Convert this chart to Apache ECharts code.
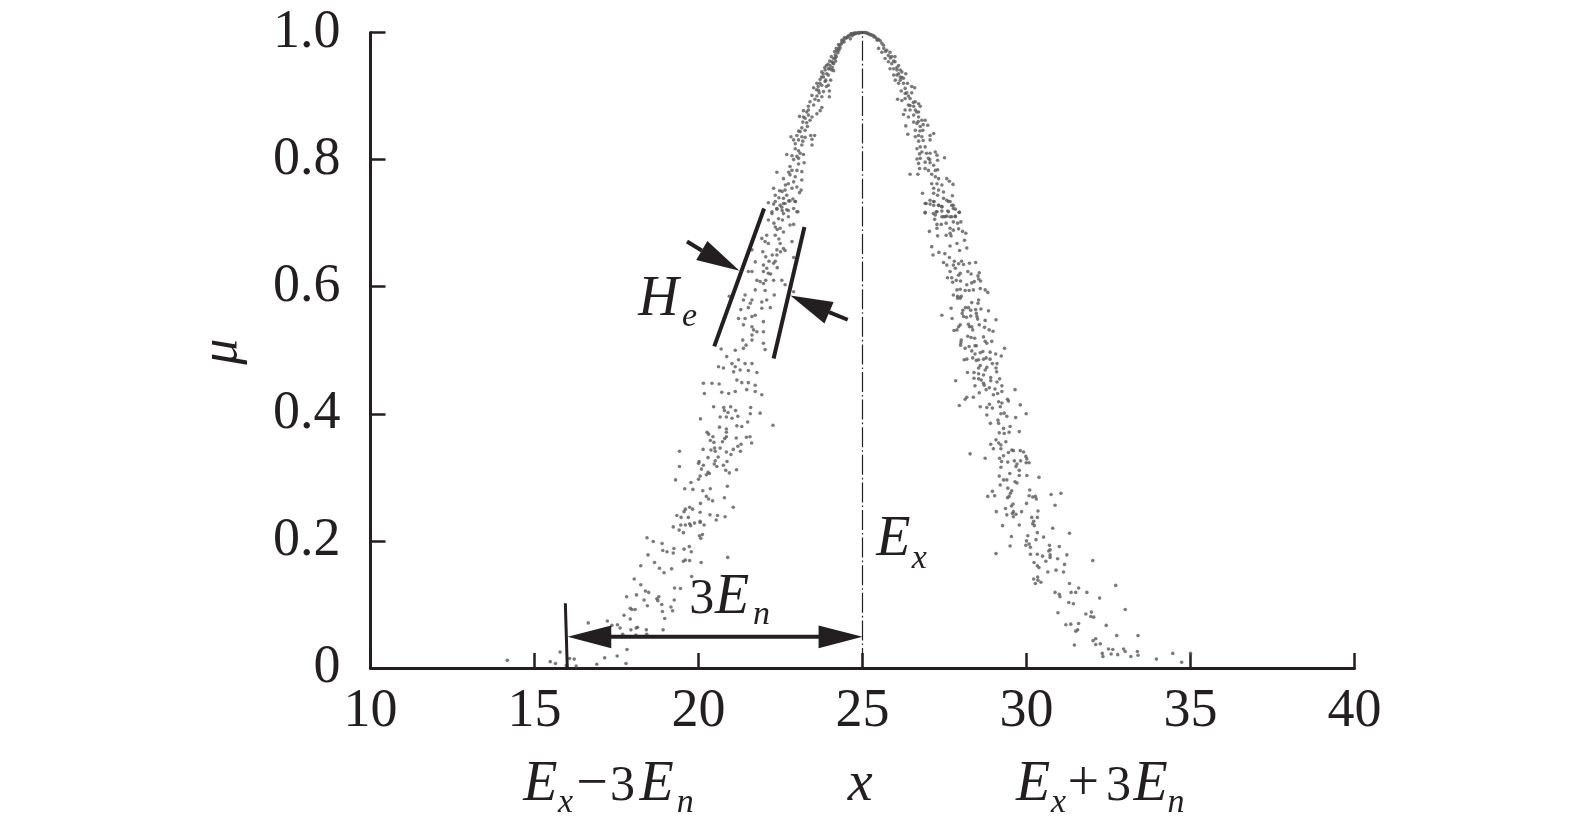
<!DOCTYPE html>
<html>
<head>
<meta charset="utf-8">
<style>html,body{margin:0;padding:0;background:#fff}#c{width:1575px;height:831px}</style>
<script src="https://cdn.jsdelivr.net/npm/echarts@6/dist/echarts.min.js"></script>
</head>
<body>
<div id="c"></div>
<script>
// Cloud drops [x, mu], grouped by region
const crestLeft=[[24.98,1.0],[24.88,1.0],[24.78,.999],[24.67,.998],[24.57,.995],[24.49,.991],[24.42,.988],[24.37,.984],[24.30,.980],[24.27,.975],[24.22,.971],[24.17,.965],[24.12,.959],[24.07,.954],[24.01,.948],[24.72,.998],[24.62,.996],[24.52,.992],[24.44,.985],[24.32,.976],[24.25,.968],[24.17,.960],[24.10,.952],[24.0,.943],[24.37,.988],[24.27,.981],[24.2,.975],[24.15,.970],[24.05,.962],[24.0,.955],[23.95,.950],[23.9,.948],[24.08,.945],[23.85,.945],[23.8,.935],[23.75,.930],[23.7,.92],[23.65,.915],[23.6,.91],[23.88,.925],[23.9,.915],[23.68,.905],[24.45,.992],[24.55,.993],[24.35,.982],[24.28,.972],[24.2,.962],[24.18,.955],[24.65,.998],[24.75,.999],[24.9,.999]];
const crestRight=[[24.63,.990],[24.73,.997],[24.83,.999],[24.93,1.0],[25.0,1.0],[25.13,.999],[25.23,.997],[25.34,.995],[25.44,.990],[25.54,.987],[25.08,1.0],[25.18,.998],[25.29,.996],[25.39,.993],[25.49,.989],[24.78,.998],[24.68,.995],[25.05,1.0],[25.15,.999],[25.25,.996],[25.35,.993],[25.45,.988],[25.65,.975],[25.7,.97],[25.85,.96],[25.95,.955],[26.05,.945],[26.1,.935],[26.15,.93],[26.25,.92],[26.35,.905],[26.4,.9],[26.55,.89],[26.65,.875],[26.7,.86],[26.75,.845],[26.85,.83],[26.95,.81],[27.05,.8],[26.85,.855],[26.45,.885]];
const upperLeft=[[24.12,.951],[23.96,.943],[23.86,.941],[24.06,.941],[23.76,.938],[23.91,.935],[24.12,.940],[23.81,.930],[23.96,.933],[24.03,.925],[23.71,.926],[23.86,.923],[23.61,.920],[23.76,.917],[23.96,.917],[23.51,.913],[23.66,.909],[23.81,.907],[23.99,.908],[23.46,.901],[23.61,.900],[23.76,.899],[23.99,.899],[23.66,.893],[23.40,.891],[23.35,.884],[23.51,.886],[23.76,.882],[23.71,.877],[23.61,.872],[23.20,.877],[23.35,.878],[23.08,.868],[23.20,.867],[23.35,.870],[23.46,.867],[23.18,.859],[23.30,.858],[23.40,.862],[23.32,.852],[23.25,.846],[23.10,.844],[23.0,.838],[23.15,.836],[23.25,.835],[22.82,.836],[22.90,.831],[23.05,.831],[23.18,.829],[23.42,.838],[23.54,.838],[23.46,.832],[23.46,.823],[23.15,.823],[22.95,.817],[23.05,.814],[22.69,.808],[22.85,.806],[23.0,.805],[23.10,.810],[23.20,.808],[23.05,.802],[22.79,.789],[22.85,.783],[23.0,.783],[23.15,.781],[23.05,.793],[23.22,.795],[22.39,.780],[22.59,.770],[22.79,.776],[22.95,.773],[22.90,.765],[22.74,.762],[23.15,.768],[22.29,.755],[22.47,.751],[22.64,.752],[22.85,.755],[23.0,.757],[23.13,.752],[23.08,.748],[22.69,.744],[22.59,.739],[22.88,.738],[22.95,.734],[22.34,.744],[22.13,.732],[22.29,.730],[22.49,.728],[22.64,.731],[22.74,.720],[22.90,.723],[23.03,.718],[22.39,.723],[22.24,.715],[22.59,.715],[23.55,.895],[23.3,.875],[23.25,.865],[23.15,.85],[23.05,.845],[22.95,.825],[22.9,.80],[22.75,.78],[22.65,.76],[22.55,.75],[22.45,.74],[22.75,.735],[22.55,.72]];
const upperRight=[[25.59,.983],[25.49,.975],[25.64,.980],[25.59,.969],[25.74,.972],[25.84,.969],[25.69,.959],[25.79,.964],[25.89,.962],[25.99,.962],[25.79,.954],[25.89,.951],[25.99,.954],[26.10,.948],[25.84,.943],[25.95,.943],[26.05,.941],[26.15,.941],[26.20,.938],[26.32,.935],[25.95,.933],[26.05,.933],[26.20,.929],[26.0,.925],[26.15,.925],[26.25,.928],[26.10,.920],[26.37,.920],[26.50,.915],[26.59,.913],[26.30,.912],[26.18,.908],[26.30,.904],[26.50,.905],[26.07,.895],[26.20,.893],[26.30,.896],[26.45,.896],[26.61,.891],[26.71,.888],[26.76,.884],[26.40,.886],[26.56,.884],[26.30,.878],[26.45,.878],[26.61,.878],[26.71,.875],[26.25,.871],[26.40,.867],[26.56,.870],[26.71,.867],[26.81,.862],[26.91,.862],[26.99,.854],[26.56,.859],[26.66,.857],[26.76,.852],[26.32,.853],[26.61,.846],[26.84,.846],[26.38,.840],[26.61,.836],[26.71,.838],[26.81,.836],[27.06,.838],[27.17,.841],[26.71,.829],[27.06,.831],[26.76,.820],[26.91,.820],[26.66,.817],[26.81,.812],[26.74,.809],[27.06,.810],[27.22,.812],[27.27,.807],[27.50,.803],[26.66,.801],[26.76,.802],[27.01,.802],[26.91,.796],[27.06,.795],[26.71,.794],[27.17,.791],[27.29,.799],[26.91,.786],[27.01,.783],[26.74,.786],[27.22,.783],[27.29,.784],[26.45,.777],[26.69,.777],[27.11,.777],[27.22,.773],[27.32,.770],[27.11,.762],[27.27,.762],[27.42,.760],[27.57,.770],[27.65,.766],[27.76,.761],[27.17,.755],[27.32,.752],[27.47,.749],[26.83,.747],[27.29,.744],[27.17,.747],[27.74,.743],[27.47,.739],[27.57,.736],[27.67,.734],[27.06,.736],[27.17,.734],[26.94,.731],[27.32,.728],[27.42,.726],[27.17,.728],[27.72,.728],[27.77,.723],[27.62,.718],[27.27,.718],[27.22,.713],[26.91,.716],[27.42,.710],[27.52,.710],[27.67,.710],[27.83,.710],[27.95,.717]];
const middleLeft=[[22.34,.734],[22.59,.731],[22.79,.735],[22.95,.734],[22.24,.718],[22.39,.722],[22.54,.725],[22.69,.721],[23.0,.718],[22.13,.705],[22.44,.707],[22.56,.705],[22.74,.710],[22.79,.697],[22.90,.698],[22.34,.694],[22.49,.692],[22.59,.686],[22.34,.681],[22.08,.681],[21.93,.676],[22.03,.671],[22.13,.668],[22.49,.668],[22.85,.671],[22.39,.658],[22.59,.660],[22.64,.657],[22.90,.646],[21.96,.655],[22.05,.647],[22.39,.650],[22.34,.640],[21.63,.658],[21.73,.639],[21.98,.634],[22.08,.629],[22.29,.637],[21.52,.624],[21.63,.624],[21.98,.624],[22.13,.621],[21.78,.610],[21.88,.608],[21.98,.605],[22.29,.610],[22.54,.610],[21.73,.595],[22.03,.594],[22.31,.587],[22.64,.603],[22.90,.592],[21.42,.587],[20.94,.585],[21.37,.579],[21.63,.579],[21.58,.574],[21.93,.576],[22.08,.579],[21.29,.564],[21.52,.567],[21.93,.566],[22.19,.567],[21.22,.550],[21.42,.550],[21.63,.553],[21.73,.555],[21.98,.545],[21.37,.540],[21.63,.537],[21.68,.532],[21.78,.529],[21.98,.529],[21.63,.524],[21.35,.516],[21.63,.516],[21.37,.503],[21.45,.508],[21.98,.511],[22.03,.501],[20.69,.502],[20.86,.490],[21.12,.500],[20.61,.474],[20.76,.472],[21.02,.479],[21.22,.485],[21.12,.474],[21.42,.479],[21.63,.479],[21.07,.466],[21.27,.469],[21.52,.468],[21.78,.465],[20.15,.448],[20.41,.448],[20.63,.447],[21.17,.453],[21.32,.449],[21.52,.449],[21.73,.445],[20.18,.432],[20.71,.434],[20.92,.432],[21.12,.435],[21.47,.438],[21.73,.435],[21.93,.430],[22.3,.70],[22.4,.69],[22.45,.675],[22.5,.655],[22.25,.65],[22.15,.64],[22.2,.62],[22.4,.63],[22.05,.61]];
const middleRight=[[26.91,.731],[27.06,.730],[27.18,.734],[27.32,.728],[27.42,.726],[27.62,.734],[27.77,.728],[27.83,.722],[26.91,.717],[27.16,.715],[27.25,.718],[27.42,.719],[27.60,.719],[27.95,.717],[27.20,.706],[27.47,.710],[27.57,.711],[27.72,.710],[27.83,.711],[27.27,.698],[27.40,.698],[27.55,.700],[27.77,.702],[27.90,.700],[28.0,.702],[27.27,.692],[27.67,.692],[27.77,.689],[27.93,.691],[28.05,.687],[28.15,.684],[27.04,.687],[27.29,.680],[27.55,.681],[27.67,.684],[27.70,.680],[28.11,.673],[27.11,.663],[27.67,.664],[27.88,.668],[28.18,.661],[27.96,.657],[27.15,.650],[27.33,.654],[27.51,.652],[27.65,.646],[27.47,.638],[27.57,.634],[27.80,.640],[28.02,.640],[27.77,.634],[27.93,.636],[28.08,.635],[28.26,.637],[28.45,.638],[27.83,.629],[27.67,.624],[27.98,.621],[27.93,.618],[28.21,.624],[28.31,.620],[28.56,.622],[28.52,.617],[28.54,.612],[27.59,.614],[27.72,.614],[27.86,.610],[27.75,.607],[27.99,.609],[28.33,.606],[28.41,.608],[28.60,.609],[28.18,.603],[27.88,.595],[27.98,.596],[28.13,.594],[28.25,.594],[28.38,.595],[28.59,.597],[28.74,.595],[28.82,.591],[27.77,.587],[27.90,.585],[28.01,.585],[27.90,.582],[27.98,.582],[28.54,.579],[28.52,.574],[28.33,.575],[27.70,.566],[28.14,.567],[28.23,.567],[28.06,.563],[28.30,.563],[28.45,.564],[28.61,.565],[28.84,.562],[27.42,.555],[28.04,.558],[28.08,.553],[28.17,.552],[28.30,.554],[28.47,.558],[28.49,.553],[28.51,.549],[27.73,.550],[28.74,.547],[29.07,.548],[27.98,.540],[27.93,.537],[28.23,.541],[28.26,.537],[28.33,.537],[28.36,.532],[28.56,.540],[28.72,.536],[28.86,.532],[28.98,.530],[27.79,.531],[27.88,.532],[28.21,.522],[28.31,.520],[28.42,.519],[28.69,.521],[28.74,.514],[28.79,.511],[28.94,.514],[28.01,.516],[28.0,.512],[27.99,.508],[29.33,.503],[28.13,.503],[28.25,.506],[28.43,.507],[28.33,.499],[28.47,.507],[28.59,.496],[28.67,.498],[28.43,.494],[28.89,.497],[29.06,.494],[29.23,.491],[28.36,.488],[28.77,.488],[28.89,.486],[28.10,.485],[28.18,.486],[28.47,.484],[28.54,.485],[28.69,.486],[28.96,.479],[29.10,.479],[28.59,.476],[28.54,.472],[28.79,.473],[29.07,.472],[28.74,.469],[29.09,.466],[28.20,.465],[28.40,.465],[28.54,.463],[28.69,.461],[28.91,.457],[27.84,.452],[28.40,.456],[28.54,.455],[28.62,.453],[28.69,.448],[28.91,.452],[29.10,.450],[29.18,.455],[28.43,.444],[28.71,.445],[28.87,.441],[29.25,.444],[29.04,.439],[28.77,.438],[29.65,.438],[29.25,.435],[28.56,.433],[29.12,.432],[28.99,.430],[28.18,.426],[28.13,.423],[28.38,.426],[29.42,.423]];
const lowerLeft=[[14.17,.012],[15.48,.010],[15.64,.007],[15.78,.025],[15.97,.004],[16.07,.015],[16.21,.014],[16.27,.003],[16.90,.006],[17.14,.016],[17.52,.019],[17.79,.007],[17.82,.029],[16.64,.071],[17.22,.074],[17.36,.067],[17.53,.068],[17.61,.063],[17.69,.053],[17.73,.083],[17.92,.077],[17.94,.060],[18.1,.063],[18.14,.064],[18.09,.052],[18.41,.060],[18.42,.053],[18.92,.060],[17.92,.094],[17.97,.092],[18.07,.092],[17.81,.112],[18.11,.115],[18.34,.107],[18.44,.098],[18.24,.131],[18.04,.140],[18.38,.121],[18.48,.119],[18.73,.109],[18.79,.112],[18.76,.106],[18.88,.100],[18.90,.089],[18.97,.078],[19.16,.096],[19.21,.090],[19.26,.107],[19.27,.126],[19.45,.125],[19.79,.144],[18.43,.205],[18.62,.199],[18.89,.196],[18.46,.178],[18.66,.166],[18.24,.161],[18.81,.157],[18.95,.150],[19.18,.156],[18.91,.185],[19.04,.183],[19.23,.181],[19.25,.188],[19.56,.187],[19.72,.191],[19.78,.183],[19.54,.168],[19.60,.170],[19.73,.169],[20.08,.166],[20.89,.174],[19.30,.296],[19.42,.317],[19.42,.341],[19.58,.282],[19.77,.292],[19.83,.281],[20.13,.279],[20.36,.282],[20.88,.286],[20.24,.270],[20.31,.266],[20.43,.263],[20.79,.268],[20.06,.259],[21.06,.253],[19.6,.250],[19.73,.253],[19.82,.250],[19.56,.246],[19.34,.240],[19.47,.237],[19.69,.237],[20.05,.245],[20.05,.231],[20.35,.241],[20.58,.240],[20.54,.233],[20.81,.238],[19.23,.222],[19.41,.217],[19.46,.225],[19.54,.213],[19.6,.225],[19.73,.227],[19.76,.224],[19.88,.228],[20.05,.229],[20.17,.225],[20.03,.208],[20.12,.210],[20.07,.204],[20.46,.411],[20.77,.410],[20.98,.411],[20.79,.405],[20.9,.402],[20.85,.395],[20.66,.395],[21.02,.393],[21.13,.405],[21.2,.396],[21.59,.410],[21.58,.400],[21.88,.401],[22.27,.382],[20.06,.392],[21.5,.387],[21.17,.381],[21.32,.380],[20.64,.379],[20.85,.376],[20.85,.371],[20.26,.371],[20.31,.368],[20.44,.364],[20.85,.364],[20.8,.361],[20.36,.358],[20.47,.355],[20.73,.356],[21.15,.362],[21.46,.363],[21.57,.364],[21.62,.354],[21.3,.352],[21.2,.349],[21.06,.344],[21.28,.341],[20.14,.344],[20.38,.343],[20.49,.346],[20.51,.341],[20.66,.346],[20.85,.340],[20.99,.336],[20.29,.331],[20.02,.325],[20.0,.322],[20.6,.332],[20.51,.326],[20.87,.325],[20.15,.319],[20.09,.313],[20.48,.321],[20.56,.317],[20.76,.319],[20.83,.311],[21.16,.312],[20.94,.307],[20.29,.308],[20.24,.304],[20.33,.306],[20.05,.302],[20.0,.297]];
const lowerRight=[[35.0,.023],[34.73,.009],[34.46,.023],[33.96,.014],[33.4,.020],[33.38,.026],[33.18,.018],[33.01,.026],[32.96,.030],[32.78,.021],[32.63,.029],[32.5,.030],[32.58,.022],[32.31,.023],[32.33,.018],[32.25,.038],[32.11,.037],[32.11,.046],[32.03,.043],[31.46,.036],[33.4,.051],[32.75,.051],[32.43,.067],[31.59,.070],[31.35,.069],[31.2,.068],[31.56,.060],[31.5,.058],[33.01,.092],[32.05,.080],[31.96,.081],[31.98,.088],[31.81,.085],[30.96,.087],[32.23,.110],[31.43,.101],[31.29,.103],[32.72,.130],[31.84,.119],[31.59,.126],[31.5,.119],[31.36,.119],[31.31,.133],[30.87,.119],[31.0,.116],[31.02,.112],[30.27,.133],[30.22,.140],[30.34,.143],[30.35,.138],[30.44,.135],[32.02,.169],[30.65,.151],[30.9,.154],[31.13,.151],[31.16,.163],[31.23,.178],[30.95,.172],[31.0,.191],[30.7,.193],[30.72,.186],[30.68,.184],[30.72,.178],[30.72,.174],[30.59,.168],[30.49,.176],[30.33,.179],[30.12,.179],[30.23,.166],[30.33,.161],[30.38,.158],[31.31,.212],[30.8,.220],[30.52,.206],[30.33,.213],[30.29,.202],[30.04,.208],[30.0,.200],[29.98,.193],[30.08,.195],[30.12,.190],[29.54,.207],[29.5,.192],[29.07,.180],[29.27,.224],[29.78,.225],[30.22,.231],[30.24,.224],[30.19,.227],[30.16,.237],[30.33,.237],[30.35,.247],[29.08,.246],[29.36,.251],[29.4,.241],[29.6,.246],[29.57,.243],[29.68,.242],[29.6,.238],[29.85,.246],[29.54,.255],[29.59,.258],[30.0,.259],[30.87,.256],[30.75,.273],[31.05,.275],[30.08,.271],[30.19,.269],[30.27,.270],[30.3,.266],[30.1,.280],[28.82,.270],[28.96,.278],[29.03,.271],[29.43,.283],[29.55,.279],[29.51,.275],[29.47,.270],[29.42,.268],[30.38,.300],[30.01,.303],[29.78,.303],[29.65,.293],[29.71,.291],[29.2,.288],[29.17,.302],[29.3,.296],[29.4,.296],[29.49,.306],[28.28,.337],[28.74,.330],[29.18,.330],[29.3,.334],[29.45,.339],[29.55,.343],[29.6,.342],[29.81,.342],[29.91,.340],[29.98,.333],[30.01,.329],[30.08,.323],[29.99,.323],[29.82,.326],[29.63,.326],[29.43,.324],[29.24,.325],[29.71,.321],[29.68,.317],[29.22,.316],[29.78,.311],[28.91,.352],[28.99,.345],[29.07,.359],[29.15,.354],[29.22,.351],[29.22,.345],[29.37,.356],[29.17,.370],[29.3,.377],[29.32,.369],[29.47,.371],[29.5,.380],[29.78,.372],[28.9,.385],[29.13,.390],[29.15,.385],[28.79,.398],[29.22,.400],[29.32,.401],[29.4,.396],[29.67,.394],[29.99,.400],[27.95,.413],[28.59,.411],[28.79,.410],[28.87,.415],[28.96,.409],[29.2,.411],[29.25,.417],[29.15,.419],[29.81,.414],[29.45,.420]];
const cloudDrops=[].concat(crestLeft,crestRight,upperLeft,upperRight,middleLeft,middleRight,lowerLeft,lowerRight);

// Axis ticks
const yTickLabels={0:'0',0.2:'0.2',0.4:'0.4',0.6:'0.6',0.8:'0.8',1:'1.0'};

// Annotations in data units: x1, y1, x2, y2
const centreLine=[[25,0,25,1]];
const strokes=[
 [15.94,.102,16.0,0,3],          // left limit mark
 [17.3,.049,23.7,.049,4],        // 3En shaft
 [22.0,.723,20.48,.506,4],       // He left edge
 [23.23,.694,22.29,.487,4],      // He right edge
 [19.65,.671,20.10,.657,4],      // He left arrow tail
 [24.55,.548,23.98,.560,4]       // He right arrow tail
];
const arrowHeads=[
 [[16.01,.049],[17.34,.067],[17.34,.031]],
 [[25.0,.049],[23.66,.067],[23.66,.031]],
 [[21.25,.625],[20.27,.672],[19.93,.642]],
 [[22.8,.586],[24.12,.576],[23.84,.542]]
];
// text, x, mu (baseline), font size, italic, rotation
const notes=[
 ['E',14.66,-.2105,56,1],['x',15.72,-.2278,34,1],['−',16.27,-.2105,56,0],['3',17.3,-.2105,50,0],['E',18.2,-.2105,56,1],['n',19.34,-.2278,34,1],
 ['x',24.55,-.2105,56,1],
 ['E',29.68,-.2105,56,1],['x',30.75,-.2278,34,1],['+',31.25,-.2105,56,0],['3',32.42,-.2105,50,0],['E',33.26,-.2105,56,1],['n',34.3,-.2278,34,1],
 ['3',19.72,.084,50,0],['E',20.5,.084,56,1],['n',21.66,.068,34,1],
 ['E',25.42,.174,56,1],['x',26.5,.155,34,1],
 ['H',18.16,.552,56,1],['e',19.5,.536,34,1],
 ['μ',5.97,.477,52,1,1]
];
const ink='#231f20';

const chart=echarts.init(document.getElementById('c'),null,{renderer:'canvas'});
chart.setOption({
 animation:false,
 backgroundColor:'#fff',
 grid:{left:370.5,right:220.5,top:32.5,bottom:163},
 xAxis:{type:'value',min:10,max:40,interval:5,splitLine:{show:false},
  axisLine:{show:true,onZero:false,lineStyle:{color:ink,width:3}},
  axisTick:{show:true,inside:true,length:15,lineStyle:{color:ink,width:2.5}},
  axisLabel:{color:ink,fontFamily:'Liberation Serif',fontSize:54,margin:17,hideOverlap:false,showMinLabel:true,showMaxLabel:true}},
 yAxis:{type:'value',min:0,max:1,interval:.2,splitLine:{show:false},
  axisLine:{show:true,onZero:false,lineStyle:{color:ink,width:3}},
  axisTick:{show:true,inside:true,length:15,lineStyle:{color:ink,width:2.5}},
  axisLabel:{color:ink,fontFamily:'Liberation Serif',fontSize:54,margin:30,hideOverlap:false,showMinLabel:true,showMaxLabel:true,
   formatter:v=>yTickLabels[v]!==undefined?yTickLabels[v]:v.toFixed(1)}},
 series:[
  {type:'scatter',name:'drops',data:cloudDrops,symbol:'circle',symbolSize:3.6,itemStyle:{color:'#5a5a5a'},silent:true,clip:false,large:false,z:2},
  {type:'custom',name:'centre',data:centreLine,silent:true,z:3,renderItem:(p,api)=>{
    const a=api.coord([api.value(0),api.value(1)]),b=api.coord([api.value(2),api.value(3)]);
    return {type:'line',shape:{x1:a[0],y1:a[1],x2:b[0],y2:b[1]},style:{stroke:ink,lineWidth:1.2,lineDash:[20,3,1.6,3]}};
  }},
  {type:'custom',name:'strokes',data:strokes,silent:true,z:4,renderItem:(p,api)=>{
    const a=api.coord([api.value(0),api.value(1)]),b=api.coord([api.value(2),api.value(3)]);
    return {type:'line',shape:{x1:a[0],y1:a[1],x2:b[0],y2:b[1]},style:{stroke:ink,lineWidth:api.value(4)}};
  }},
  {type:'custom',name:'heads',data:arrowHeads.map((h,i)=>[i]),silent:true,z:4,renderItem:(p,api)=>{
    return {type:'polygon',shape:{points:arrowHeads[api.value(0)].map(q=>api.coord(q))},style:{fill:ink}};
  }},
  {type:'custom',name:'notes',data:notes.map((n,i)=>[i]),silent:false,z:5,renderItem:(p,api)=>{
    const n=notes[api.value(0)],c=api.coord([n[1],n[2]]);
    const rot=n[5]?Math.PI/2:0;
    const off=n[3]*0.3;
    return {type:'text',x:n[5]?c[0]-off:c[0],y:n[5]?c[1]:c[1]-off,rotation:rot,
     style:{text:n[0],fill:ink,font:(n[4]?'italic ':'')+n[3]+'px "Liberation Serif"',textAlign:'left',verticalAlign:'middle',textVerticalAlign:'middle'}};
  }}
 ]
});
</script>
</body>
</html>
